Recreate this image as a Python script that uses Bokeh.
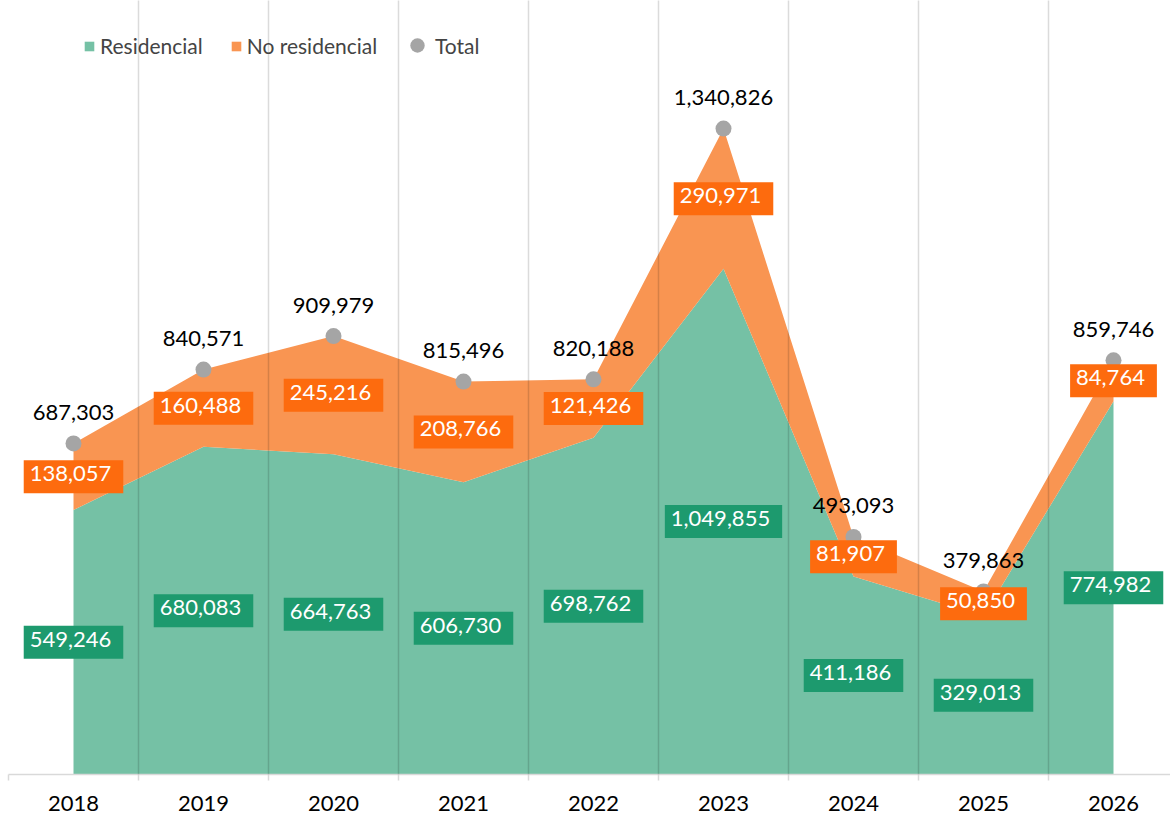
from bokeh.plotting import figure
from bokeh.models import ColumnDataSource, FixedTicker, Legend, LegendItem, CustomJSTickFormatter, Range1d
from bokeh.core.properties import value
from bokeh.embed import file_html
from bokeh.resources import INLINE

years = ["2018", "2019", "2020", "2021", "2022", "2023", "2024", "2025", "2026"]
residencial = [549246, 680083, 664763, 606730, 698762, 1049855, 411186, 329013, 774982]
no_residencial = [138057, 160488, 245216, 208766, 121426, 290971, 81907, 50850, 84764]
total = [687303, 840571, 909979, 815496, 820188, 1340826, 493093, 379863, 859746]

FONT = "Lato"
GREEN_AREA = "#75c1a5"
ORANGE_AREA = "#f99552"
GREEN_BOX = "#1d9a6e"
ORANGE_BOX = "#fd6b0e"
GRAY = "#a5a5a5"

xs = list(range(len(years)))
stack_top = [r + n for r, n in zip(residencial, no_residencial)]
res_mid = [r / 2 for r in residencial]
nores_mid = [r + n / 2 for r, n in zip(residencial, no_residencial)]

src = ColumnDataSource(dict(
    x=xs, year=years, res=residencial, nores=no_residencial, total=total,
    top=stack_top, zero=[0] * len(xs), res_mid=res_mid, nores_mid=nores_mid,
    res_lbl=[f"{v:,}" for v in residencial],
    nores_lbl=[f"{v:,}" for v in no_residencial],
    tot_lbl=[f"{v:,}" for v in total],
))

W, H = 1170, 816
p = figure(width=W, height=H, output_backend="svg", toolbar_location=None,
           y_axis_location=None, min_border_left=8, min_border_right=0,
           min_border_top=0, min_border_bottom=42)
p.x_range = Range1d(-0.5, -0.5 + (W - 8) / 130.0)
p.y_range = Range1d(0, 1606600)
p.outline_line_color = None
p.background_fill_color = "white"

r_res = p.varea(x="x", y1="zero", y2="res", source=src, fill_color=GREEN_AREA)
r_nores = p.varea(x="x", y1="res", y2="top", source=src, fill_color=ORANGE_AREA)
r_tot = p.scatter(x="x", y="total", source=src, size=16, fill_color=GRAY, line_color=None)

boundaries = [i - 0.5 for i in range(len(years) + 1)]
p.xgrid.ticker = FixedTicker(ticks=boundaries)
p.xgrid.grid_line_color = "#000000"
p.xgrid.grid_line_alpha = 0.14
p.xgrid.grid_line_width = 1.5
p.xgrid.level = "guide"
p.ygrid.grid_line_color = None

ax = p.xaxis[0]
ax.ticker = FixedTicker(ticks=xs, minor_ticks=boundaries)
ax.formatter = CustomJSTickFormatter(args=dict(labels=years), code="return labels[Math.round(tick)] || '';")
ax.axis_line_color = "#d9d9d9"
ax.axis_line_width = 1.5
ax.major_tick_line_color = None
ax.major_tick_out = 0
ax.major_tick_in = 0
ax.minor_tick_line_color = "#d9d9d9"
ax.minor_tick_line_width = 1.5
ax.minor_tick_out = 6
ax.minor_tick_in = 0
ax.major_label_text_font = FONT
ax.major_label_text_font_size = "22px"
ax.major_label_text_color = "#000000"
ax.major_label_standoff = 15

def boxed(ycol, tcol, fill):
    p.text(x="x", y=ycol, text=tcol, source=src, text_font=value(FONT),
           text_font_size="22px", text_color="white", text_align="center",
           text_baseline="middle", background_fill_color=fill,
           padding=[6, 12, 6, 12])

boxed("res_mid", "res_lbl", GREEN_BOX)
boxed("nores_mid", "nores_lbl", ORANGE_BOX)

p.text(x="x", y="total", text="tot_lbl", source=src, text_font=value(FONT),
       text_font_size="22px", text_color="#000000", text_align="center",
       text_baseline="middle", y_offset=-31)

common = dict(orientation="horizontal", padding=0, margin=0,
              label_text_font=FONT, label_text_font_size="21px",
              border_line_color=None, background_fill_alpha=0)
legend1 = Legend(items=[
    LegendItem(label="Residencial", renderers=[r_res]),
    LegendItem(label="No residencial", renderers=[r_nores]),
], location=(75, 716), spacing=27, glyph_width=12, glyph_height=12,
    label_standoff=5, **common)
legend2 = Legend(items=[
    LegendItem(label="Total", renderers=[r_tot]),
], location=(391, 711), glyph_width=36, glyph_height=36, label_standoff=0, **common)
p.add_layout(legend1, "center")
p.add_layout(legend2, "center")

open("out.html", "w").write(file_html(p, INLINE))
